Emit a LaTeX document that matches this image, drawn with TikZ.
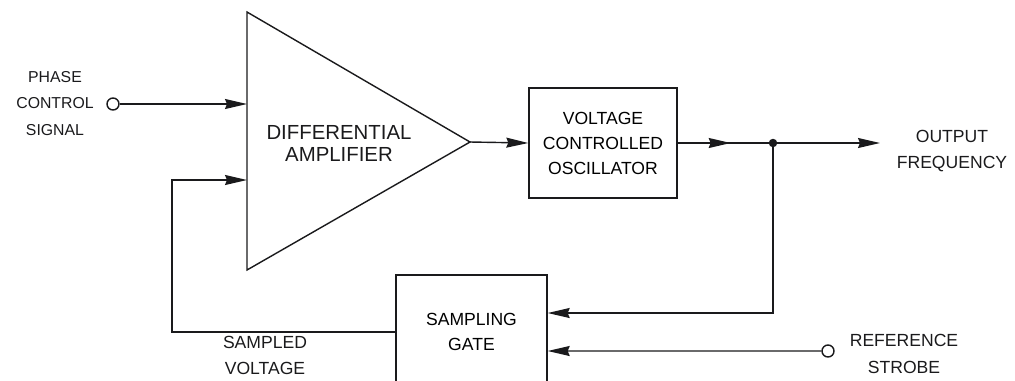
\documentclass[tikz,border=0pt]{standalone}
\usepackage{fontspec}
\setmainfont{Liberation Sans}
\usetikzlibrary{arrows.meta, positioning, calc}
\definecolor{ink}  {HTML}{1A1A1C}
\definecolor{paper}{HTML}{FFFFFF}
\tikzset{
  wire/.style     = {draw=ink, line width=0.8pt},
  feed/.style     = {wire, -{Stealth[length=0.44cm, width=0.2cm, inset=0.04cm]}},
  blockbox/.style = {draw=ink, line width=0.8pt, align=center, inner sep=0pt,
                     font=\fontsize{10}{14.2}\selectfont},
  terminal/.style = {draw=ink, line width=0.8pt, circle, fill=paper,
                     minimum size=0.24cm, inner sep=0pt},
  tag/.style      = {text=ink, align=center, inner sep=0pt,
                     font=\fontsize{10}{15}\selectfont},
}

\begin{document}
\begin{tikzpicture}[x=0.02cm, y=-0.02cm]
    \useasboundingbox (0,0) rectangle (1015,380);
    \clip (0,0) rectangle (1015,380);
    % amplifier
    \coordinate (amptip) at (470,142);
    \coordinate (inplus)  at (247,104);
    \coordinate (inminus) at (247,180);
    \draw[wire, line join=miter] (247,12) -- (amptip) -- (247,270) -- cycle;
    \node[tag, font=\fontsize{11.6}{13}\selectfont] (amp) at (339,143.5)
      {DIFFERENTIAL\\AMPLIFIER};
    % blocks
    \node[blockbox, minimum width=2.96cm, minimum height=2.2cm] (vco) at (603,143)
      {VOLTAGE\\CONTROLLED\\OSCILLATOR};
    \node[blockbox, minimum width=3.02cm, minimum height=2.28cm] (gate) at (471.5,332)
      {SAMPLING\\GATE};
    % terminals and labels
    \node[terminal] (phase)  at (113,104) {};
    \node[terminal] (strobe) at (828,351) {};
    \node[tag, font=\fontsize{9}{15}\selectfont] (phasetag) at (55,103.5)
      {PHASE\\CONTROL\\SIGNAL};
    \node[tag] (strobetag) at (904,354) {REFERENCE\\STROBE};
    \node[tag] (outtag)    at (952,151) {OUTPUT\\FREQUENCY};
    \node[tag] (sampletag) at (265,355.5) {SAMPLED\\VOLTAGE};
    % signal path
    \coordinate (split)  at (773,143);
    \coordinate (outend) at (880,143);
    \coordinate (fbturn) at (172,332);
    \draw[feed] (phase) -- (inplus);
    \draw[feed] (amptip) -- (vco.west);
    \draw[wire] (vco.east) -- (split);
    \draw[feed] (vco.east) -- ++(53,0);
    \draw[feed] (split) -- (outend);
    \fill[ink] (split) circle (0.085cm);
    % feedback loop
    \draw[feed] (split) |- ([yshift=0.38cm]gate.east);
    \draw[feed] (strobe) -- ([yshift=-0.38cm]gate.east);
    \draw[feed] (gate.west) -- (fbturn) |- (inminus);
\end{tikzpicture}
\end{document}
